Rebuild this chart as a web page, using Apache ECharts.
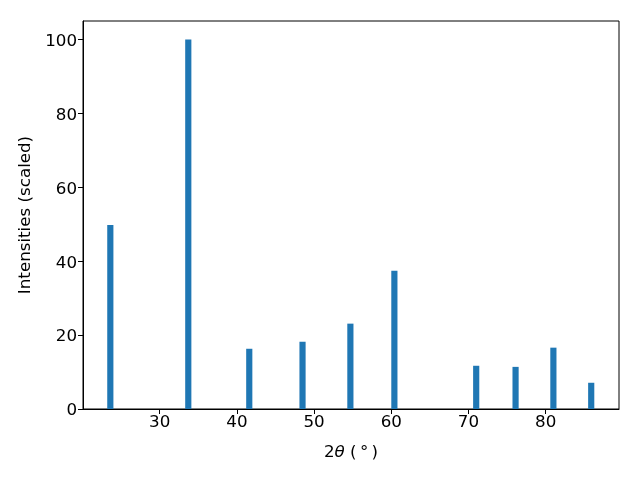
<!DOCTYPE html>
<html>
<head>
<meta charset="utf-8">
<script src="https://cdn.jsdelivr.net/npm/echarts@6/dist/echarts.min.js"></script>
<style>
html,body{margin:0;padding:0;background:#fff;}
#chart{width:640px;height:480px;}
</style>
</head>
<body>
<div id="chart"></div>
<script>
// Peak positions (2θ, degrees) and scaled intensities
const peakPositions = [23.6, 33.7, 41.6, 48.5, 54.7, 60.4, 71.0, 76.1, 81.0, 85.9];
const intensities   = [49.8, 100, 16.3, 18.2, 23.1, 37.4, 11.7, 11.4, 16.6, 7.1];
const xTicks = [30, 40, 50, 60, 70, 80];
const yTicks = [0, 20, 40, 60, 80, 100];

const BAR_WIDTH = 0.8;
const FONT = 'DejaVu Sans';
const FS = 16.7;

const chart = echarts.init(document.getElementById('chart'), null, {renderer: 'canvas'});
const data = peakPositions.map((p, i) => [p, intensities[i]]);

chart.setOption({
  animation: false,
  backgroundColor: '#fff',
  grid: {left: 83, right: 21, top: 21, bottom: 71, show: true, borderColor: '#000', borderWidth: 1, backgroundColor: 'transparent'},
  xAxis: {
    type: 'value', min: 20.06, max: 89.5,
    axisLine: {show: true, onZero: false, lineStyle: {color: '#000', width: 1}},
    axisTick: {show: true, length: 5, lineStyle: {color: '#000'}, customValues: xTicks},
    axisLabel: {color: '#000', fontFamily: FONT, fontSize: FS, margin: 5, customValues: xTicks},
    splitLine: {show: false},
    name: '2{i|θ} (\u2009°\u2009)', nameLocation: 'middle', nameGap: 35,
    nameTextStyle: {color: '#000', fontFamily: FONT, fontSize: FS,
      rich: {i: {fontStyle: 'italic', fontFamily: FONT, fontSize: FS, color: '#000'}}}
  },
  yAxis: {
    type: 'value', min: 0, max: 105,
    axisLine: {show: true, lineStyle: {color: '#000', width: 1}},
    axisTick: {show: true, length: 5, lineStyle: {color: '#000'}, customValues: yTicks},
    axisLabel: {color: '#000', fontFamily: FONT, fontSize: FS, margin: 6, customValues: yTicks,
      formatter: '{a|{value}}',
      rich: {a: {fontFamily: FONT, fontSize: FS, color: '#000', padding: [4, 0, 0, 0]}}},
    splitLine: {show: false},
    name: 'Intensities (scaled)', nameLocation: 'middle', nameGap: 47,
    nameTextStyle: {color: '#000', fontFamily: FONT, fontSize: FS}
  },
  series: [{
    type: 'custom',
    data: data,
    encode: {x: 0, y: 1},
    renderItem: function (params, api) {
      const x = api.value(0), y = api.value(1);
      const p0 = api.coord([x - BAR_WIDTH / 2, y]);
      const p1 = api.coord([x + BAR_WIDTH / 2, 0]);
      return {
        type: 'rect',
        shape: {x: p0[0], y: p0[1], width: p1[0] - p0[0], height: p1[1] - p0[1]},
        style: {fill: '#1f77b4'}
      };
    }
  }]
});
</script>
</body>
</html>
